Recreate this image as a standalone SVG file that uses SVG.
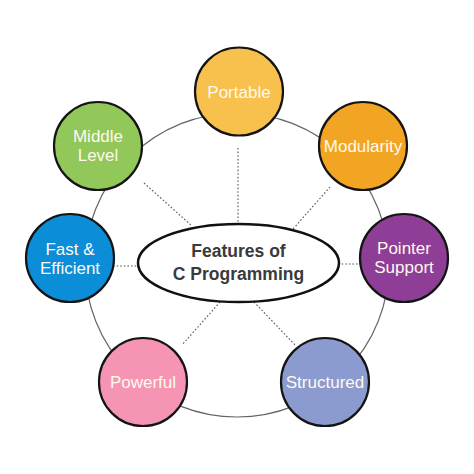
<svg xmlns="http://www.w3.org/2000/svg" width="474" height="474" viewBox="0 0 474 474">
<style>
.node{stroke:#141414;stroke-width:2.2}
.lbl{font-family:"Liberation Sans",Arial,sans-serif;font-size:17px;fill:#FFF9EE;text-anchor:middle}
.dot{stroke:#555;stroke-width:1.1;stroke-dasharray:1.6 2;fill:none}
.title{font-family:"Liberation Sans",Arial,sans-serif;font-weight:bold;font-size:17.5px;fill:#3a3a3a;text-anchor:middle}
</style>
<rect width="474" height="474" fill="#ffffff"/>
<g id="connectors">
<circle cx="237" cy="265" r="152" fill="none" stroke="#666" stroke-width="1.2"/>
<line class="dot" x1="238" y1="148" x2="238" y2="224"/>
<line class="dot" x1="144" y1="183" x2="192" y2="226"/>
<line class="dot" x1="330" y1="187" x2="293" y2="229"/>
<line class="dot" x1="113" y1="266" x2="138" y2="266"/>
<line class="dot" x1="338" y1="264" x2="360" y2="264"/>
<line class="dot" x1="220" y1="302" x2="182" y2="345"/>
<line class="dot" x1="254" y1="302" x2="295" y2="345"/>
</g>
<g id="center">
<ellipse cx="238.5" cy="263" rx="100.5" ry="39" fill="#ffffff" stroke="#111" stroke-width="2.5"/>
<text class="title" x="238.5" y="257">Features of</text>
<text class="title" x="238.5" y="280">C Programming</text>
</g>
<g id="portable">
<circle class="node" cx="239" cy="91.5" r="44" fill="#F8C04C"/>
<text class="lbl" x="239" y="97.5">Portable</text>
</g>
<g id="middle-level">
<circle class="node" cx="98" cy="146" r="44" fill="#92C75A"/>
<text class="lbl" x="98" y="142">Middle</text>
<text class="lbl" x="98" y="161">Level</text>
</g>
<g id="modularity">
<circle class="node" cx="363" cy="146" r="44" fill="#F2A523"/>
<text class="lbl" x="363" y="152">Modularity</text>
</g>
<g id="fast-efficient">
<circle class="node" cx="70" cy="258" r="44" fill="#0C8DD8"/>
<text class="lbl" x="70" y="255">Fast &amp;</text>
<text class="lbl" x="70" y="274">Efficient</text>
</g>
<g id="pointer-support">
<circle class="node" cx="404" cy="258" r="44" fill="#8E3E96"/>
<text class="lbl" x="404" y="254">Pointer</text>
<text class="lbl" x="404" y="273">Support</text>
</g>
<g id="powerful">
<circle class="node" cx="143" cy="382" r="44" fill="#F595B3"/>
<text class="lbl" x="143" y="388">Powerful</text>
</g>
<g id="structured">
<circle class="node" cx="325" cy="382" r="44" fill="#8B9BD0"/>
<text class="lbl" x="325" y="388">Structured</text>
</g>
</svg>
